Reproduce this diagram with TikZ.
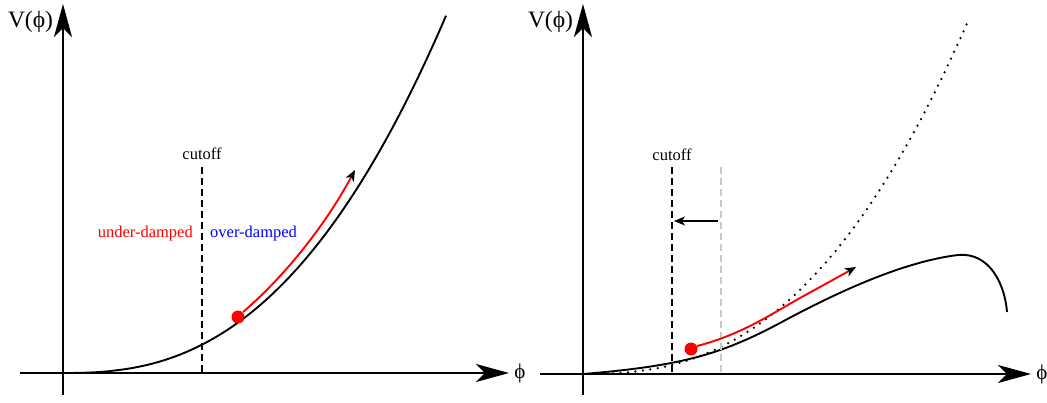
\documentclass[tikz,border=0pt]{standalone}
\usepackage{fontspec}
\setmainfont{Liberation Serif}
\usetikzlibrary{arrows.meta}
\begin{document}
\begin{tikzpicture}[x=1pt,y=-1pt,
  axis/.style={line width=1.9pt,-{Stealth[length=33pt,width=18pt,inset=9pt]}},
  curve/.style={line width=1.9pt},
  redpath/.style={red,line width=1.9pt,-{Stealth[length=11pt,width=9pt,inset=3pt,color=black]}},
  cutline/.style={line width=2.8pt,dash pattern=on 7pt off 4pt},
  dotcurve/.style={line width=2.5pt,line cap=round,dash pattern=on 0pt off 7.5pt},
  lab/.style={font=\fontsize{16.5}{18}\selectfont,inner sep=0pt},
  biglab/.style={font=\fontsize{23.5}{26}\selectfont,inner sep=0pt},
  philab/.style={font=\fontsize{21}{24}\selectfont,inner sep=0pt},
  ball/.style={circle,fill=red,minimum size=13pt,inner sep=0pt}]
\useasboundingbox (0,0) rectangle (1047,403);
% ---------- left panel ----------
\coordinate (LyB) at (63,395); \coordinate (LyT) at (63,4);
\coordinate (LxL) at (20,373); \coordinate (LxR) at (509,373);
\draw[axis] (LyB) -- (LyT);
\draw[axis] (LxL) -- (LxR);
\node[biglab] (LV) at (30.5,22) {V(ϕ)};
\node[philab] (Lphi) at (520,373) {ϕ};
\draw[curve] plot[domain=0:383,samples=100] ({63+\x},{373-355*(\x/382)^2.5});
\coordinate (Lc1) at (202,167); \coordinate (Lc2) at (202,373);
\draw[cutline] (Lc1) -- (Lc2);
\node[lab,anchor=base] (Lcut) at (202,160) {cutoff};
\node[lab,anchor=base east,text=red] (under) at (193,238) {under-damped};
\node[lab,anchor=base west,text=blue] (over) at (210,238) {over-damped};
\node[ball] (Lball) at (238,317) {};
\coordinate (Lr1) at (243,312); \coordinate (Lr2) at (355,170);
\draw[redpath] (Lr1) .. controls (275,285) and (320,235) .. (Lr2);
% ---------- right panel ----------
\coordinate (RyB) at (583,395); \coordinate (RyT) at (583,4);
\coordinate (RxL) at (540,374); \coordinate (RxR) at (1031,374);
\draw[axis] (RyB) -- (RyT);
\draw[axis] (RxL) -- (RxR);
\node[biglab] (RV) at (550.5,22) {V(ϕ)};
\node[philab] (Rphi) at (1042,374) {ϕ};
\draw[dotcurve] plot[domain=0:385,samples=100] ({583+\x},{374-353*(\x/385)^2.5});
\coordinate (Rs0) at (583,374); \coordinate (Rs1) at (780,323);
\coordinate (Rs2) at (958,255); \coordinate (Rs3) at (1007,312);
\draw[curve] (Rs0) .. controls (680,366) and (720,355) .. (Rs1)
  .. controls (830,296) and (900,262) .. (Rs2)
  .. controls (990,252) and (1005,285) .. (Rs3);
\coordinate (Rc1) at (672,167); \coordinate (Rc2) at (672,374);
\draw[cutline] (Rc1) -- (Rc2);
\coordinate (Rg1) at (721,167); \coordinate (Rg2) at (721,374);
\draw[cutline,draw={rgb,255:red,200;green,200;blue,200}] (Rg1) -- (Rg2);
\node[lab,anchor=base] (Rcut) at (672,161) {cutoff};
\coordinate (Ra1) at (718,221); \coordinate (Ra2) at (674,221);
\draw[line width=1.2pt,-{Stealth[length=11pt,width=9pt,inset=3pt]}] (Ra1) -- (Ra2);
\node[ball] (Rball) at (691,349) {};
\coordinate (Rr1) at (697,346); \coordinate (Rr2) at (800,298); \coordinate (Rr3) at (856,267);
\draw[redpath] (Rr1) .. controls (740,335) and (770,315) .. (Rr2)
  .. controls (820,287) and (840,276) .. (Rr3);
\end{tikzpicture}
\end{document}
